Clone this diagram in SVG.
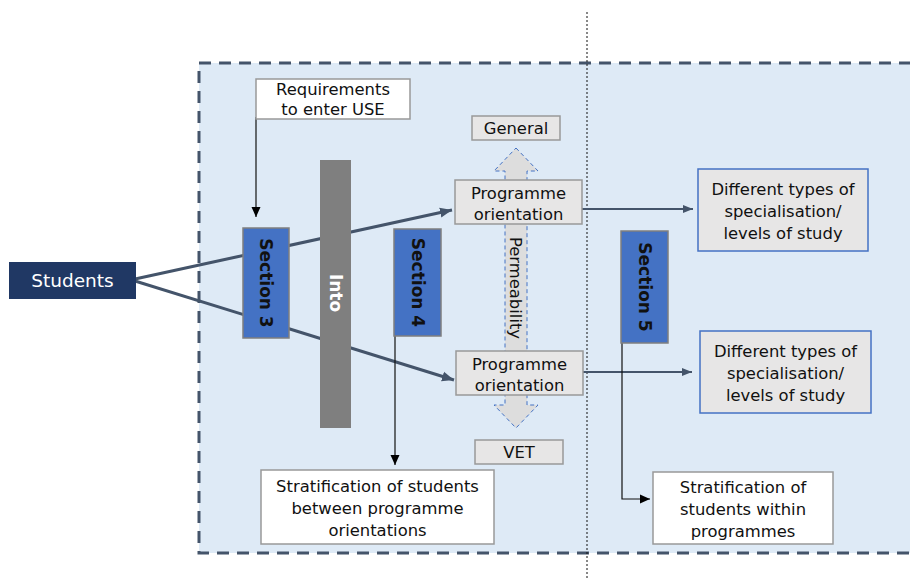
<svg xmlns="http://www.w3.org/2000/svg" width="910" height="580" viewBox="0 0 910 580">
<style>
text{font-family:"DejaVu Sans","Liberation Sans",sans-serif;font-size:16.4px;fill:#111;text-anchor:middle}
.gbox{fill:#E7E6E6;stroke:#999;stroke-width:1.5}
.wbox{fill:#FFF;stroke:#999;stroke-width:1.5}
.bbox{fill:#E7E6E6;stroke:#4472C4;stroke-width:1.5}
.sec{fill:#4472C4;stroke:#7F7F7F;stroke-width:1.5}
.sect{font-weight:bold;font-size:17px}
.thick{stroke:#44546A;stroke-width:3;fill:none}
.mid{stroke:#44546A;stroke-width:2.2;fill:none}
.thin{stroke:#111;stroke-width:1.2;fill:none}
</style>
<defs>
<marker id="ah" markerUnits="userSpaceOnUse" markerWidth="14" markerHeight="12" refX="12" refY="6" orient="auto"><path d="M0,1 L12,6 L0,11 Z" fill="#44546A"/></marker>
<marker id="ah2" markerUnits="userSpaceOnUse" markerWidth="12" markerHeight="10" refX="10" refY="5" orient="auto"><path d="M0,1 L10,5 L0,9 Z" fill="#44546A"/></marker>
<marker id="ak" markerUnits="userSpaceOnUse" markerWidth="12" markerHeight="10" refX="10" refY="5" orient="auto"><path d="M0,0.5 L10,5 L0,9.5 Z" fill="#000"/></marker>
</defs>
<rect id="frame" x="199" y="63" width="720" height="490" fill="#DEEAF6" stroke="#44546A" stroke-width="3" stroke-dasharray="12 8"/>
<line x1="587" y1="12" x2="587" y2="580" stroke="#111" stroke-width="1" stroke-dasharray="2 2"/>
<g id="connectors">
<line class="thick" x1="135" y1="279" x2="452" y2="210" marker-end="url(#ah)"/>
<line class="thick" x1="135" y1="281" x2="454" y2="380" marker-end="url(#ah)"/>
<line class="mid" x1="582" y1="209" x2="693" y2="209" marker-end="url(#ah2)"/>
<line class="mid" x1="583" y1="372" x2="692" y2="372" marker-end="url(#ah2)"/>
<line class="thin" x1="256" y1="117" x2="256" y2="217" marker-end="url(#ak)"/>
<line class="thin" x1="395" y1="336" x2="395" y2="465" marker-end="url(#ak)"/>
<polyline class="thin" points="622,338 622,499 650,499" marker-end="url(#ak)"/>
</g>
<g id="students"><rect x="9" y="262" width="127" height="37" fill="#203864"/><text x="72.5" y="287" style="fill:#fff;font-size:18.5px">Students</text></g>
<g id="requirements"><rect class="wbox" x="256" y="79" width="154" height="40"/><text x="333" y="95">Requirements</text><text x="333" y="115">to enter USE</text></g>
<g id="permeability"><path d="M516,148 L538,171 L527,171 L527,405 L538,405 L516,428 L494,405 L505,405 L505,171 L494,171 Z" fill="#DDDDDD" stroke="#4472C4" stroke-width="1" stroke-dasharray="4 3"/><text transform="translate(510,288) rotate(90)" x="0" y="0">Permeability</text></g>
<g id="section3"><rect class="sec" x="243" y="228" width="46" height="110"/><text class="sect" transform="translate(260,283) rotate(90)">Section 3</text></g>
<g id="into"><rect x="320" y="160" width="31" height="268" fill="#7F7F7F"/><text class="sect" transform="translate(329.5,293) rotate(90)" style="fill:#fff">Into</text></g>
<g id="section4"><rect class="sec" x="394" y="229" width="47" height="107"/><text class="sect" transform="translate(411.5,282.5) rotate(90)">Section 4</text></g>
<g id="section5"><rect class="sec" x="621" y="231" width="47" height="112"/><text class="sect" transform="translate(638.5,287) rotate(90)">Section 5</text></g>
<g id="general"><rect class="gbox" x="472" y="116" width="88" height="24"/><text x="516" y="134">General</text></g>
<g id="prog1"><rect class="gbox" x="455" y="180" width="127" height="44"/><text x="518.5" y="199">Programme</text><text x="518.5" y="220">orientation</text></g>
<g id="prog2"><rect class="gbox" x="456" y="351" width="127" height="44"/><text x="519.5" y="370">Programme</text><text x="519.5" y="391">orientation</text></g>
<g id="vet"><rect class="gbox" x="475" y="440" width="88" height="24"/><text x="519" y="458">VET</text></g>
<g id="diff1"><rect class="bbox" x="698" y="169" width="170" height="82"/><text x="783" y="195">Different types of</text><text x="783" y="217">specialisation/</text><text x="783" y="239">levels of study</text></g>
<g id="diff2"><rect class="bbox" x="700" y="331" width="171" height="82"/><text x="785.5" y="357">Different types of</text><text x="785.5" y="379">specialisation/</text><text x="785.5" y="401">levels of study</text></g>
<g id="strat1"><rect class="wbox" x="261" y="470" width="233" height="74"/><text x="377.5" y="492">Stratification of students</text><text x="377.5" y="514">between programme</text><text x="377.5" y="536">orientations</text></g>
<g id="strat2"><rect class="wbox" x="653" y="472" width="180" height="72"/><text x="743" y="493">Stratification of</text><text x="743" y="515">students within</text><text x="743" y="537">programmes</text></g>
</svg>
